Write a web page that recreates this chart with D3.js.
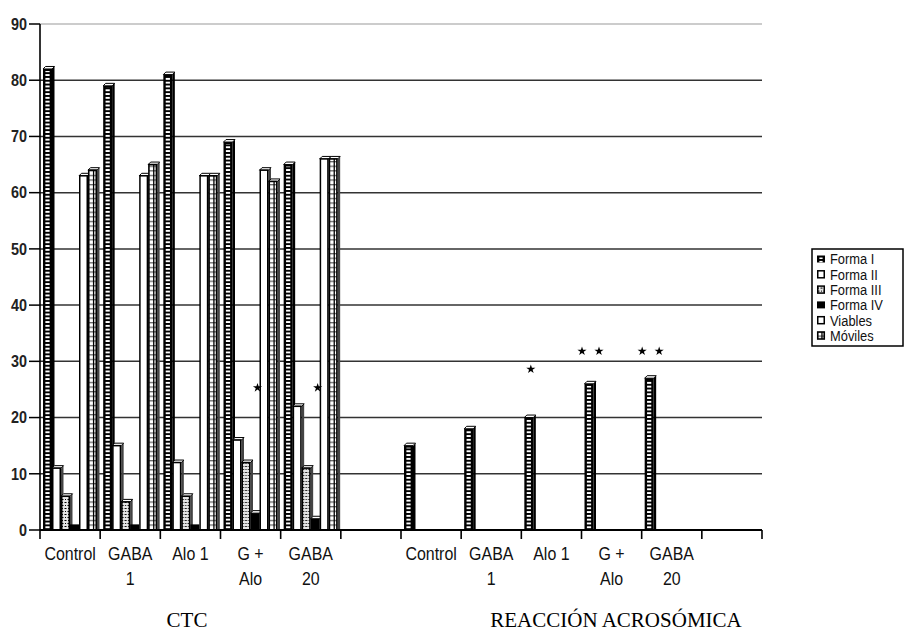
<!DOCTYPE html>
<html>
<head>
<meta charset="utf-8">
<script src="https://cdn.jsdelivr.net/npm/d3@7"></script>
<style>
  body { margin: 0; background: #fff; }
  svg { display: block; }
</style>
</head>
<body>
<svg id="chart" width="906" height="631"></svg>
<script>
// slots on the x axis: 5 groups + empty slot, twice (CTC / Reacción acrosómica)
const slots = ["c1", "c2", "c3", "c4", "c5", "c6", "r1", "r2", "r3", "r4", "r5", "r6"];
const slotLabels = ["Control", "GABA\n1", "Alo 1", "G +\nAlo", "GABA\n20", "",
                    "Control", "GABA\n1", "Alo 1", "G +\nAlo", "GABA\n20", ""];
const seriesNames = ["Forma I", "Forma II", "Forma III", "Forma IV", "Viables", "Móviles"];

// values per slot (null = no bar)
const formaI   = [82, 79, 81, 69, 65, null, 15, 18, 20, 26, 27, null];
const formaII  = [11, 15, 12, 16, 22, null, null, null, null, null, null, null];
const formaIII = [6, 5, 6, 12, 11, null, null, null, null, null, null, null];
const formaIV  = [1, 1, 1, 3, 2, null, null, null, null, null, null, null];
const viables  = [63, 63, 63, 64, 66, null, null, null, null, null, null, null];
const moviles  = [64, 65, 63, 62, 66, null, null, null, null, null, null, null];

const yTicks = [0, 10, 20, 30, 40, 50, 60, 70, 80, 90];
const sectionTitles = ["CTC", "REACCIÓN ACROSÓMICA"];

// significance stars
const starSlots  = ["c4", "c5", "r3", "r4", "r5"];
const starSeries = ["Viables", "Viables", "Forma I", "Forma I", "Forma I"];
const starCounts = [1, 1, 1, 2, 2];
const starValues = [25.3, 25.3, 28.6, 31.8, 31.8];

const allSeries = [formaI, formaII, formaIII, formaIV, viables, moviles];

const svg = d3.select("#chart");
const sans = "'Liberation Sans', Arial, sans-serif";
const squeeze = 0.84; // fake a condensed face

const x0 = d3.scaleBand().domain(slots).range([40, 762]);
const x1 = d3.scaleBand().domain(seriesNames).range([3, 57]);
const y = d3.scaleLinear().domain([0, 90]).range([530, 24]);

// patterns
const defs = svg.append("defs");
const ladder = defs.append("pattern").attr("id", "ladder")
  .attr("patternUnits", "userSpaceOnUse").attr("width", 10).attr("height", 3.8);
ladder.append("rect").attr("width", 10).attr("height", 3.8).attr("fill", "#fff");
ladder.append("rect").attr("width", 10).attr("height", 1.9).attr("fill", "#000");

const grey = defs.append("pattern").attr("id", "greyLadder")
  .attr("patternUnits", "userSpaceOnUse").attr("width", 10).attr("height", 4.6);
grey.append("rect").attr("width", 10).attr("height", 4.6).attr("fill", "#fff");
grey.append("rect").attr("width", 10).attr("height", 1.3).attr("fill", "#666");

const speck = defs.append("pattern").attr("id", "speck")
  .attr("patternUnits", "userSpaceOnUse").attr("width", 6).attr("height", 6);
speck.append("rect").attr("width", 6).attr("height", 6).attr("fill", "#e4e4e4");
speck.append("path").attr("d", "M0.5,1.5h2M3.5,4.5h2M1,4l1,1M4,1l1,1")
  .attr("stroke", "#000").attr("stroke-width", 1);

// gridlines
svg.append("g").selectAll("line")
  .data(yTicks.filter(d => d > 0))
  .join("line")
  .attr("x1", 40).attr("x2", 762)
  .attr("y1", d => y(d)).attr("y2", d => y(d))
  .attr("stroke", d => d === 90 ? "#bbb" : "#333")
  .attr("stroke-width", 1.5);

// bars
const barData = [];
slots.forEach((s, i) => {
  seriesNames.forEach((name, j) => {
    const v = allSeries[j][i];
    if (v != null) barData.push({ slot: s, series: name, value: v });
  });
});

const bw = x1.bandwidth();
const depth = 2.5;

function drawBar(g, d, w, top, bottom, dp) {
  const h = bottom - top;
  const dark = d.series === "Forma I" || d.series === "Forma IV";
  if (dp > 0) {
    // small 3d side and top face
    g.append("path")
      .attr("d", `M${w},${top}L${w + dp},${top - dp}L${w + dp},${bottom}L${w},${bottom}Z`)
      .attr("fill", dark ? "#000" : "#444");
    g.append("path")
      .attr("d", `M0,${top}L${dp},${top - dp}L${w + dp},${top - dp}L${w},${top}Z`)
      .attr("fill", "#fff").attr("stroke", "#000").attr("stroke-width", 1);
  }
  if (d.series === "Forma I") {
    g.append("rect").attr("x", 0).attr("y", top).attr("width", w).attr("height", h).attr("fill", "#000");
    g.append("rect").attr("x", 2.4).attr("y", top + 2).attr("width", w - 4.8).attr("height", Math.max(0, h - 2))
      .attr("fill", "url(#ladder)");
  } else if (d.series === "Forma IV") {
    g.append("rect").attr("x", 0).attr("y", top).attr("width", w).attr("height", h).attr("fill", "#000");
  } else if (d.series === "Forma III") {
    g.append("rect").attr("x", 0.75).attr("y", top).attr("width", w - 1.5).attr("height", h)
      .attr("fill", "url(#speck)").attr("stroke", "#000").attr("stroke-width", 1.5);
  } else if (d.series === "Móviles") {
    g.append("rect").attr("x", 0.75).attr("y", top).attr("width", w - 1.5).attr("height", h)
      .attr("fill", "url(#greyLadder)").attr("stroke", "#000").attr("stroke-width", 1.6);
    g.append("line").attr("x1", w * 0.62).attr("x2", w * 0.62).attr("y1", top).attr("y2", bottom)
      .attr("stroke", "#000").attr("stroke-width", 1.3);
  } else {
    g.append("rect").attr("x", 0.75).attr("y", top).attr("width", w - 1.5).attr("height", h)
      .attr("fill", "#fff").attr("stroke", "#000").attr("stroke-width", 1.5);
  }
}

svg.append("g").selectAll("g")
  .data(barData)
  .join("g")
  .attr("transform", d => `translate(${x0(d.slot) + x1(d.series)},0)`)
  .each(function (d) {
    drawBar(d3.select(this), d, bw, y(d.value), y(0), d.value > 1.5 ? depth : 0);
  });

// stars
const star = d3.symbol(d3.symbolStar).size(26);
starSlots.forEach((s, i) => {
  const anchor = starSeries[i] === "Viables"
    ? x0(s) + x1("Viables") - 2
    : x0(s) + x1("Forma I") + bw / 2 + 2;
  const n = starCounts[i];
  for (let k = 0; k < n; k++) {
    const cx = n === 1 ? anchor : anchor + (k === 0 ? -9 : 8);
    svg.append("path").attr("d", star)
      .attr("transform", `translate(${cx},${y(starValues[i])})`)
      .attr("fill", "#000");
  }
});

// y axis
svg.append("line").attr("x1", 40).attr("x2", 40).attr("y1", y(90)).attr("y2", y(0))
  .attr("stroke", "#000").attr("stroke-width", 1.6);
const yAx = svg.append("g").selectAll("g").data(yTicks).join("g")
  .attr("transform", d => `translate(0,${y(d)})`);
yAx.append("line").attr("x1", 29).attr("x2", 40).attr("stroke", "#000").attr("stroke-width", 1.5);
yAx.append("text")
  .attr("transform", `translate(27,0) scale(0.9,1)`)
  .attr("dy", "0.36em").attr("text-anchor", "end")
  .attr("font-family", sans).attr("font-weight", "bold").attr("font-size", 16)
  .attr("fill", "#222")
  .text(d => d);

// x axis
svg.append("line").attr("x1", 40).attr("x2", 762).attr("y1", y(0)).attr("y2", y(0))
  .attr("stroke", "#000").attr("stroke-width", 1.8);
const tickXs = slots.map(s => x0(s)).concat([x0.range()[1]]);
svg.append("g").selectAll("line").data(tickXs).join("line")
  .attr("x1", d => d).attr("x2", d => d).attr("y1", y(0)).attr("y2", y(0) + 9)
  .attr("stroke", "#000").attr("stroke-width", 1.6);

svg.append("g").selectAll("text").data(slots).join("text")
  .attr("transform", d => `translate(${x0(d) + x0.bandwidth() / 2},560) scale(${squeeze},1)`)
  .attr("text-anchor", "middle")
  .attr("font-family", sans).attr("font-size", 19).attr("fill", "#111")
  .each(function (d, i) {
    const t = d3.select(this);
    slotLabels[i].split("\n").forEach((ln, k) => {
      t.append("tspan").attr("x", 0).attr("dy", k === 0 ? 0 : 25).text(ln);
    });
  });

// section titles
svg.append("g").selectAll("text").data(sectionTitles).join("text")
  .attr("x", (d, i) => i === 0 ? 187 : 616)
  .attr("y", 627)
  .attr("text-anchor", "middle")
  .attr("font-family", "'Liberation Serif', 'Times New Roman', serif")
  .attr("font-size", 21)
  .text(d => d);

// legend
const lg = svg.append("g").attr("transform", "translate(812,249)");
lg.append("rect").attr("width", 91).attr("height", 97)
  .attr("fill", "#fff").attr("stroke", "#000").attr("stroke-width", 1.5);
const items = lg.selectAll("g").data(seriesNames).join("g")
  .attr("transform", (d, i) => `translate(5,${10 + i * 15.3})`);
items.each(function (d) {
  drawBar(d3.select(this), { series: d }, 8, -3.5, 3.5, 0);
});
items.append("text")
  .attr("transform", `translate(13,0) scale(0.86,1)`)
  .attr("dy", "0.36em")
  .attr("font-family", sans).attr("font-size", 15).attr("fill", "#111")
  .text(d => d);
</script>
</body>
</html>
